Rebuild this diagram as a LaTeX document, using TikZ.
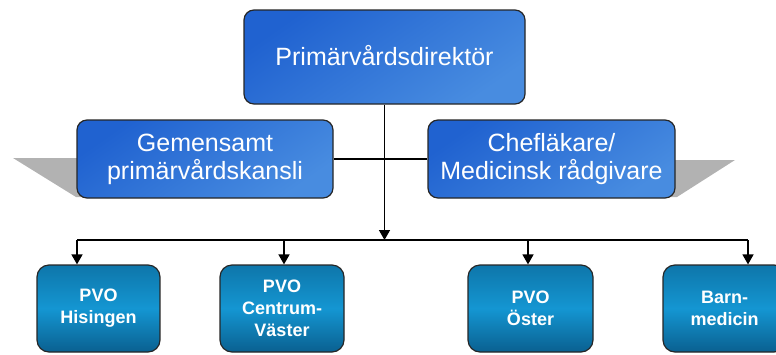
\documentclass[tikz,border=0pt]{standalone}
\usepackage{fontspec}
\setmainfont{Liberation Sans}
\usetikzlibrary{arrows.meta,positioning}
\definecolor{ledblue}{RGB}{32,98,208}
\definecolor{ledlight}{RGB}{72,140,224}
\definecolor{pvotop}{RGB}{14,118,170}
\definecolor{pvomid}{RGB}{20,150,210}
\definecolor{pvobot}{RGB}{10,96,144}
\definecolor{skugga}{RGB}{178,178,178}

\tikzset{
  ledning/.style={draw=black!85,line width=1.2pt,rounded corners=10pt,
    shading=axis,left color=ledblue,right color=ledlight,shading angle=35,
    text=white,align=center,inner sep=0pt},
  pvo/.style={draw=black!85,line width=1.2pt,rounded corners=12pt,
    top color=pvotop,bottom color=pvobot,middle color=pvomid,
    text=white,align=center,inner sep=0pt,
    minimum width=123pt,minimum height=87pt,
    font=\fontsize{18}{22}\selectfont\bfseries},
  linje/.style={line width=1.5pt},
  pil/.style={linje,-{Triangle[width=11pt,length=10pt]}}
}

\begin{document}
\begin{tikzpicture}[x=1pt,y=-1pt]
  \useasboundingbox (0,0) rectangle (776,354);

  % skuggor bakom stabsrutorna
  \fill[skugga] (13,158) -- (90,158) -- (90,197) -- (76,197) -- cycle;
  \fill[skugga] (660,160) -- (735,160) -- (677,197) -- (660,197) -- cycle;

  % ledning
  \node[ledning,minimum width=281pt,minimum height=94pt,
    font=\fontsize{25}{28}\selectfont] (dir) at (384.5,57) {\raisebox{4pt}{Primärvårdsdirektör}};
  \node[ledning,minimum width=256pt,minimum height=78pt,
    font=\fontsize{25}{28}\selectfont] (kansli) at (205,159) {Gemensamt\\primärvårdskansli};
  \node[ledning,minimum width=247pt,minimum height=78pt,
    font=\fontsize{25}{28}\selectfont] (chef) at (551.5,159) {Chefläkare/\\Medicinsk rådgivare};

  % verksamhetsområden
  \node[pvo] (hisingen) at (98.5,308.5) {PVO\\Hisingen};
  \node[pvo,minimum width=124pt] (centrum) at (282,308.5) {PVO\\Centrum-\\Väster};
  \node[pvo,minimum width=125pt] (oster) at (530.5,308.5) {PVO\\Öster};
  \node[pvo] (barn) at (724.5,308.5) {Barn-\\medicin};

  \coordinate (b1) at (77,240);
  \coordinate (b2) at (284,240);
  \coordinate (b3) at (528,240);
  \coordinate (b4) at (748,240);

  \draw[linje] (kansli.east) -- (chef.west);
  \draw[pil] (dir.south) -- (dir.south |- b1);
  \draw[linje] (b1) -- (b4);
  \draw[pil] (b1) -- (b1 |- hisingen.north);
  \draw[pil] (b2) -- (b2 |- centrum.north);
  \draw[pil] (b3) -- (b3 |- oster.north);
  \draw[pil] (b4) -- (b4 |- barn.north);
\end{tikzpicture}
\end{document}
